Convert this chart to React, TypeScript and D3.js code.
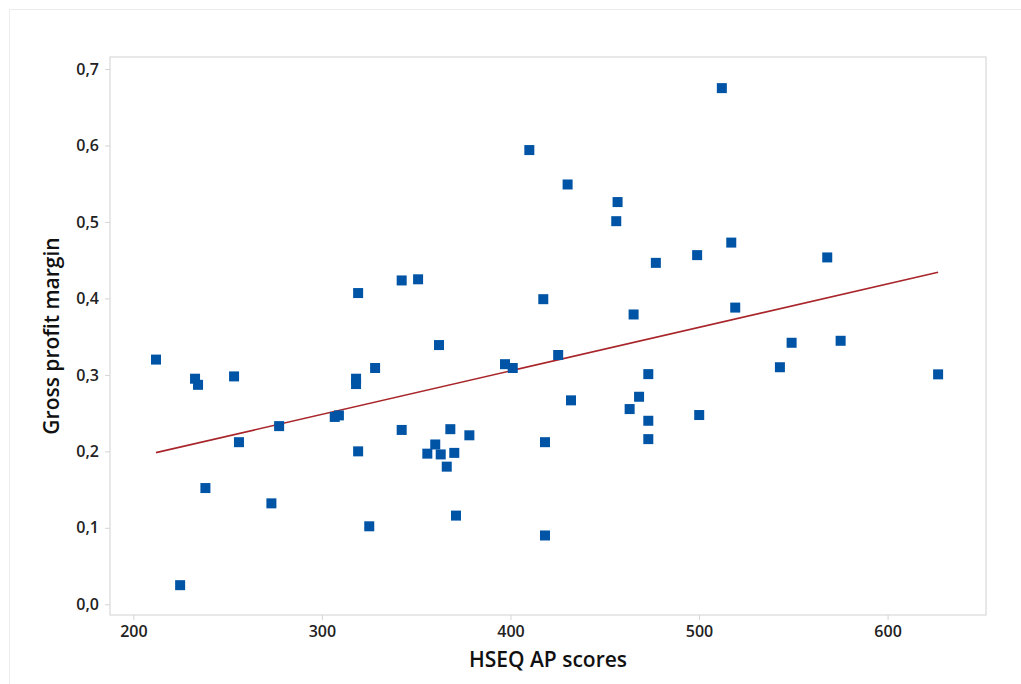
import React, { useEffect, useRef } from 'react'
import * as d3 from 'd3'

// HSEQ AP scores (x) and gross profit margin (y)
const scores = [
  212.0, 224.8, 232.7, 234.3, 238.2, 253.4, 256.0, 273.2, 277.3, 306.8,
  309.0, 318.1, 318.1, 319.2, 319.2, 325.1, 328.2, 342.3, 342.3, 351.0,
  362.1, 355.9, 360.1, 363.0, 368.1, 366.2, 370.2, 371.1, 378.2, 397.1,
  401.2, 417.4, 418.3, 418.3, 425.3, 410.0, 430.3, 456.8, 456.1, 477.1,
  499.0, 517.1, 568.0, 465.3, 519.2, 549.1, 575.1, 542.9, 626.8, 473.1,
  432.1, 468.2, 463.2, 473.1, 473.1, 500.1, 512.1,
]
const margins = [
  0.320, 0.025, 0.295, 0.287, 0.152, 0.298, 0.212, 0.132, 0.233, 0.245,
  0.247, 0.295, 0.288, 0.407, 0.200, 0.102, 0.309, 0.228, 0.4235, 0.425,
  0.339, 0.197, 0.209, 0.196, 0.229, 0.180, 0.198, 0.116, 0.221, 0.314,
  0.309, 0.399, 0.212, 0.090, 0.326, 0.594, 0.549, 0.526, 0.501, 0.4465,
  0.4566, 0.473, 0.4536, 0.379, 0.388, 0.342, 0.3446, 0.310, 0.3007, 0.301,
  0.2667, 0.2714, 0.2553, 0.240, 0.216, 0.2475, 0.675,
]

const xTicks = [200, 300, 400, 500, 600]
const yTicks = [0, 0.1, 0.2, 0.3, 0.4, 0.5, 0.6, 0.7]

const xLabel = 'HSEQ AP scores'
const yLabel = 'Gross profit margin'

export default function App() {
  const ref = useRef<SVGSVGElement>(null)

  useEffect(() => {
    const svg = d3.select(ref.current)
    svg.selectAll('*').remove()

    const left = 110, right = 986, top = 57, bottom = 615
    const font = "'Open Sans', 'Noto Sans', sans-serif"

    const x = d3.scaleLinear().domain([187.6, 652.2]).range([left, right])
    const y = d3.scaleLinear().domain([-0.014, 0.7157]).range([bottom, top])

    // outer frame
    svg.append('rect')
      .attr('x', 9.5).attr('y', 9.5)
      .attr('width', 1030).attr('height', 700)
      .attr('fill', 'none').attr('stroke', '#ececec')

    // plot frame
    svg.append('rect')
      .attr('x', left).attr('y', top)
      .attr('width', right - left).attr('height', bottom - top)
      .attr('fill', 'none').attr('stroke', '#d9d9d9').attr('stroke-width', 1.2)

    const xAxis = svg.append('g')
      .attr('transform', `translate(0, ${bottom})`)
      .call(d3.axisBottom(x).tickValues(xTicks).tickSize(5).tickPadding(6).tickFormat(d3.format('d')))
    const yAxis = svg.append('g')
      .attr('transform', `translate(${left}, 0)`)
      .call(d3.axisLeft(y).tickValues(yTicks).tickSize(5).tickPadding(6)
        .tickFormat(d => d3.format('.1f')(d as number).replace('.', ',')))

    for (const ax of [xAxis, yAxis]) {
      ax.select('.domain').remove()
      ax.selectAll('.tick line').attr('stroke', '#d4d4d4')
      ax.selectAll('.tick text')
        .attr('fill', '#222')
        .attr('font-family', font)
        .attr('font-size', 16)
        .attr('font-weight', 600)
    }

    // least-squares fit line
    const n = scores.length
    const mx = d3.mean(scores)!
    const my = d3.mean(margins)!
    let sxy = 0, sxx = 0
    for (let i = 0; i < n; i++) {
      sxy += (scores[i] - mx) * (margins[i] - my)
      sxx += (scores[i] - mx) ** 2
    }
    const slope = sxy / sxx
    const intercept = my - slope * mx
    const [x0, x1] = d3.extent(scores) as [number, number]

    svg.append('line')
      .attr('x1', x(x0)).attr('y1', y(intercept + slope * x0))
      .attr('x2', x(x1)).attr('y2', y(intercept + slope * x1))
      .attr('stroke', '#a8262b').attr('stroke-width', 1.6)

    const s = 10
    svg.append('g')
      .selectAll('rect')
      .data(scores.map((v, i) => [v, margins[i]]))
      .enter()
      .append('rect')
      .attr('x', d => x(d[0]) - s / 2)
      .attr('y', d => y(d[1]) - s / 2)
      .attr('width', s)
      .attr('height', s)
      .attr('fill', '#0054a6')

    svg.append('text')
      .attr('x', (left + right) / 2 + 0)
      .attr('y', 667)
      .attr('text-anchor', 'middle')
      .attr('font-family', font)
      .attr('font-size', 21)
      .attr('font-weight', 600)
      .attr('fill', '#111')
      .text(xLabel)

    svg.append('text')
      .attr('transform', `translate(59, ${(top + bottom) / 2}) rotate(-90)`)
      .attr('text-anchor', 'middle')
      .attr('font-family', font)
      .attr('font-size', 21)
      .attr('font-weight', 600)
      .attr('fill', '#111')
      .text(yLabel)
  }, [])

  return (
    <svg
      ref={ref}
      width={1021}
      height={684}
      style={{ position: 'absolute', left: 0, top: 0, background: '#fff' }}
    />
  )
}
